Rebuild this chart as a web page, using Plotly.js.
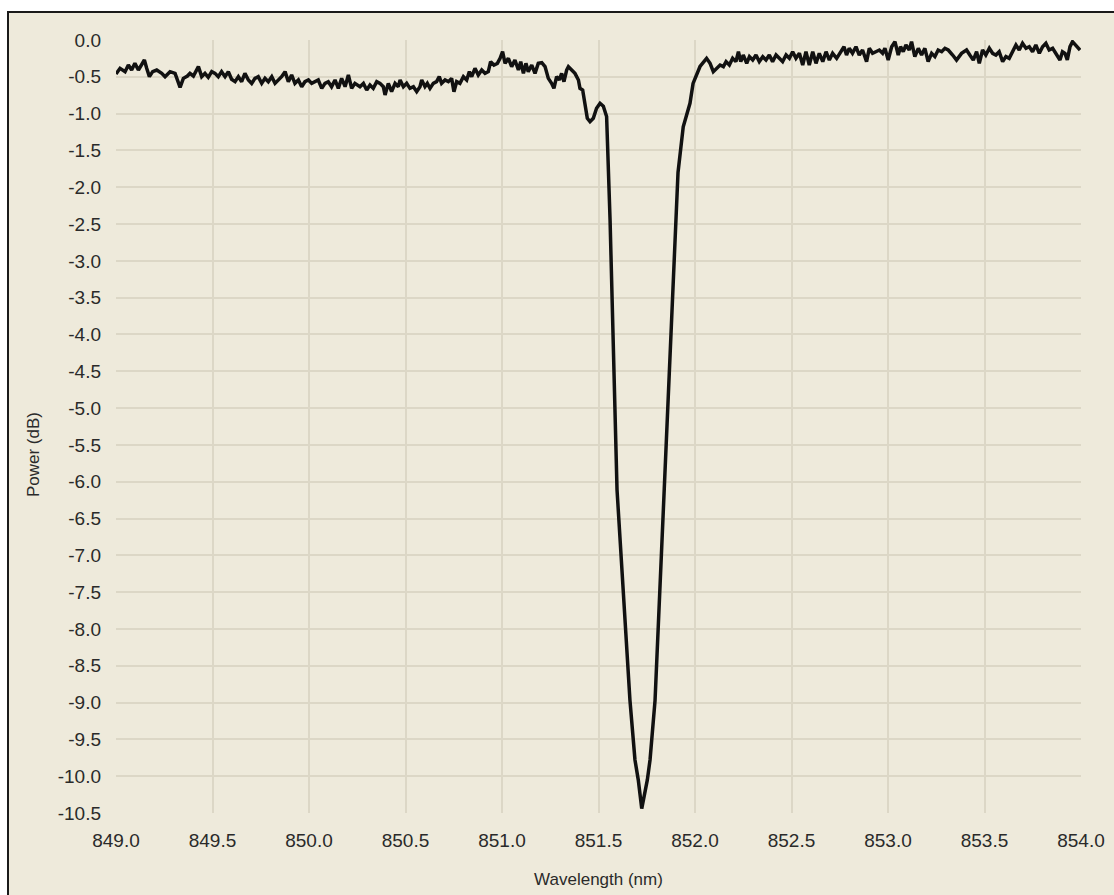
<!DOCTYPE html>
<html>
<head>
<meta charset="utf-8">
<script src="https://cdn.plot.ly/plotly-3.0.1.min.js"></script>
<style>
  html, body { margin: 0; padding: 0; background: #ffffff; width: 1114px; height: 895px; overflow: hidden; }
  #chart { position: absolute; left: 7px; top: 11px; width: 1105px; height: 882px;
           border-left: 2px solid #1a1a1a; border-top: 2px solid #1a1a1a; background: #EEEADB; }
</style>
</head>
<body>
<div id="chart"></div>
<script>
// Wavelength (nm)
const wavelength = [
  849.000, 849.021, 849.047, 849.064, 849.081, 849.098, 849.116, 849.133, 849.147, 849.159,
  849.173, 849.190, 849.211, 849.237, 849.254, 849.280, 849.306, 849.332, 849.349, 849.370,
  849.383, 849.401, 849.415, 849.427, 849.444, 849.461, 849.478, 849.496, 849.513, 849.530,
  849.547, 849.565, 849.582, 849.599, 849.617, 849.634, 849.651, 849.668, 849.686, 849.703,
  849.720, 849.737, 849.755, 849.772, 849.789, 849.807, 849.824, 849.841, 849.858, 849.876,
  849.893, 849.910, 849.927, 849.945, 849.962, 849.979, 849.997, 850.014, 850.031, 850.048,
  850.066, 850.083, 850.100, 850.117, 850.135, 850.152, 850.169, 850.187, 850.204, 850.221,
  850.238, 850.264, 850.282, 850.299, 850.316, 850.333, 850.351, 850.368, 850.385, 850.394,
  850.411, 850.428, 850.446, 850.463, 850.472, 850.489, 850.506, 850.523, 850.541, 850.558,
  850.575, 850.584, 850.601, 850.613, 850.627, 850.644, 850.661, 850.675, 850.687, 850.705,
  850.722, 850.739, 850.751, 850.765, 850.782, 850.800, 850.817, 850.831, 850.843, 850.860,
  850.877, 850.895, 850.912, 850.929, 850.941, 850.958, 850.976, 850.990, 851.003, 851.016,
  851.033, 851.050, 851.067, 851.085, 851.097, 851.111, 851.124, 851.136, 851.154, 851.171,
  851.188, 851.206, 851.223, 851.240, 851.257, 851.269, 851.283, 851.297, 851.309, 851.321,
  851.335, 851.344, 851.361, 851.378, 851.396, 851.404, 851.418, 851.430, 851.442, 851.456,
  851.473, 851.490, 851.508, 851.525, 851.542, 851.560, 851.596, 851.663, 851.689, 851.706,
  851.724, 851.753, 851.767, 851.793, 851.912, 851.939, 851.974, 851.990, 852.026, 852.060,
  852.078, 852.095, 852.112, 852.130, 852.147, 852.161, 852.178, 852.195, 852.212, 852.225,
  852.237, 852.250, 852.268, 852.282, 852.299, 852.316, 852.333, 852.351, 852.368, 852.385,
  852.402, 852.420, 852.437, 852.454, 852.472, 852.489, 852.506, 852.523, 852.541, 852.558,
  852.575, 852.592, 852.610, 852.627, 852.644, 852.662, 852.679, 852.696, 852.713, 852.734,
  852.772, 852.785, 852.799, 852.816, 852.834, 852.851, 852.868, 852.889, 852.903, 852.920,
  852.937, 852.955, 852.972, 852.984, 853.001, 853.019, 853.036, 853.053, 853.065, 853.079,
  853.093, 853.110, 853.122, 853.139, 853.157, 853.174, 853.191, 853.208, 853.226, 853.243,
  853.260, 853.278, 853.295, 853.312, 853.335, 853.355, 853.381, 853.407, 853.424, 853.442,
  853.459, 853.473, 853.490, 853.507, 853.525, 853.542, 853.559, 853.576, 853.594, 853.611,
  853.628, 853.645, 853.663, 853.680, 853.697, 853.715, 853.732, 853.749, 853.766, 853.784,
  853.801, 853.818, 853.835, 853.853, 853.873, 853.891, 853.904, 853.917, 853.929, 853.943,
  853.956, 853.973, 853.995
];

// Power (dB)
const power = [
  -0.462, -0.385, -0.430, -0.340, -0.408, -0.317, -0.408, -0.340, -0.272, -0.385,
  -0.498, -0.430, -0.408, -0.453, -0.498, -0.430, -0.453, -0.643, -0.521, -0.489,
  -0.453, -0.489, -0.408, -0.362, -0.498, -0.453, -0.507, -0.430, -0.453, -0.498,
  -0.430, -0.498, -0.430, -0.534, -0.566, -0.498, -0.566, -0.453, -0.543, -0.589,
  -0.521, -0.498, -0.589, -0.521, -0.566, -0.498, -0.589, -0.543, -0.498, -0.430,
  -0.566, -0.475, -0.589, -0.543, -0.634, -0.566, -0.543, -0.589, -0.566, -0.543,
  -0.657, -0.589, -0.566, -0.634, -0.543, -0.657, -0.521, -0.634, -0.475, -0.657,
  -0.589, -0.634, -0.589, -0.679, -0.611, -0.657, -0.566, -0.589, -0.634, -0.747,
  -0.589, -0.702, -0.589, -0.634, -0.543, -0.634, -0.589, -0.657, -0.634, -0.702,
  -0.634, -0.543, -0.634, -0.589, -0.657, -0.589, -0.566, -0.498, -0.589, -0.543,
  -0.566, -0.521, -0.702, -0.566, -0.589, -0.498, -0.543, -0.430, -0.498, -0.385,
  -0.475, -0.408, -0.453, -0.430, -0.294, -0.340, -0.317, -0.249, -0.159, -0.317,
  -0.249, -0.362, -0.272, -0.408, -0.294, -0.453, -0.317, -0.430, -0.340, -0.453,
  -0.317, -0.308, -0.362, -0.521, -0.589, -0.657, -0.498, -0.543, -0.453, -0.566,
  -0.408, -0.362, -0.408, -0.453, -0.543, -0.657, -0.679, -0.906, -1.064, -1.110,
  -1.064, -0.928, -0.860, -0.900, -1.040, -2.450, -6.110, -8.970, -9.780, -10.050,
  -10.440, -10.050, -9.780, -8.970, -1.800, -1.180, -0.860, -0.590, -0.360, -0.249,
  -0.317, -0.430, -0.385, -0.340, -0.362, -0.294, -0.340, -0.249, -0.294, -0.159,
  -0.294, -0.204, -0.317, -0.226, -0.272, -0.204, -0.294, -0.226, -0.272, -0.204,
  -0.294, -0.204, -0.249, -0.294, -0.204, -0.249, -0.159, -0.249, -0.181, -0.340,
  -0.159, -0.340, -0.159, -0.317, -0.181, -0.294, -0.159, -0.272, -0.181, -0.249,
  -0.091, -0.204, -0.113, -0.181, -0.091, -0.204, -0.136, -0.294, -0.113, -0.181,
  -0.159, -0.136, -0.181, -0.113, -0.272, -0.091, -0.023, -0.204, -0.091, -0.159,
  -0.068, -0.136, -0.023, -0.226, -0.113, -0.204, -0.113, -0.294, -0.181, -0.226,
  -0.136, -0.159, -0.113, -0.136, -0.204, -0.272, -0.181, -0.136, -0.204, -0.272,
  -0.159, -0.317, -0.136, -0.204, -0.113, -0.181, -0.204, -0.159, -0.294, -0.226,
  -0.249, -0.159, -0.068, -0.136, -0.045, -0.113, -0.091, -0.159, -0.068, -0.181,
  -0.091, -0.045, -0.136, -0.113, -0.204, -0.272, -0.159, -0.181, -0.272, -0.091,
  -0.023, -0.068, -0.136
];

const xTickVals = [849.0, 849.5, 850.0, 850.5, 851.0, 851.5, 852.0, 852.5, 853.0, 853.5, 854.0];
const xTickLabels = ["849.0", "849.5", "850.0", "850.5", "851.0", "851.5", "852.0", "852.5", "853.0", "853.5", "854.0"];
const yTickVals = [0, -0.5, -1, -1.5, -2, -2.5, -3, -3.5, -4, -4.5, -5, -5.5, -6, -6.5, -7, -7.5, -8, -8.5, -9, -9.5, -10, -10.5];
const yTickLabels = ["0.0", "-0.5", "-1.0", "-1.5", "-2.0", "-2.5", "-3.0", "-3.5", "-4.0", "-4.5", "-5.0", "-5.5", "-6.0", "-6.5", "-7.0", "-7.5", "-8.0", "-8.5", "-9.0", "-9.5", "-10.0", "-10.5"];
const xTitle = "Wavelength (nm)";
const yTitle = "Power (dB)";

const trace = {
  x: wavelength,
  y: power,
  type: "scatter",
  mode: "lines",
  line: { color: "#111111", width: 3.5 },
  hoverinfo: "skip"
};

const FONT = "'Liberation Sans', Arial, Helvetica, sans-serif";

const layout = {
  width: 1105,
  height: 882,
  paper_bgcolor: "#EEEADB",
  plot_bgcolor: "#EEEADB",
  margin: { l: 107, r: 33, t: 27, b: 82 },
  showlegend: false,
  font: { family: FONT, color: "#222222" },
  xaxis: {
    range: [849, 854],
    tickvals: xTickVals,
    ticktext: xTickLabels,
    showgrid: true,
    gridcolor: "#DCD7C6",
    gridwidth: 2,
    zeroline: false,
    showline: false,
    ticks: "",
    ticklabelstandoff: 14,
    tickfont: { family: FONT, size: 19, color: "#2a2a2a" },
    title: { text: xTitle, font: { family: FONT, size: 17, color: "#2a2a2a" }, standoff: 23 },
    automargin: false,
    fixedrange: true
  },
  yaxis: {
    range: [-10.5, 0],
    tickvals: yTickVals,
    ticktext: yTickLabels,
    showgrid: true,
    gridcolor: "#DCD7C6",
    gridwidth: 2,
    zeroline: false,
    showline: false,
    ticks: "",
    ticklabelstandoff: 14,
    tickfont: { family: FONT, size: 19, color: "#2a2a2a" },
    automargin: false,
    fixedrange: true
  },
  annotations: [{
    text: yTitle,
    xref: "paper", yref: "paper",
    x: -0.086, y: 0.463,
    xanchor: "center", yanchor: "middle",
    textangle: -90,
    showarrow: false,
    font: { family: FONT, size: 17, color: "#2a2a2a" }
  }]
};

Plotly.newPlot("chart", [trace], layout, { displayModeBar: false, staticPlot: true });
</script>
</body>
</html>
